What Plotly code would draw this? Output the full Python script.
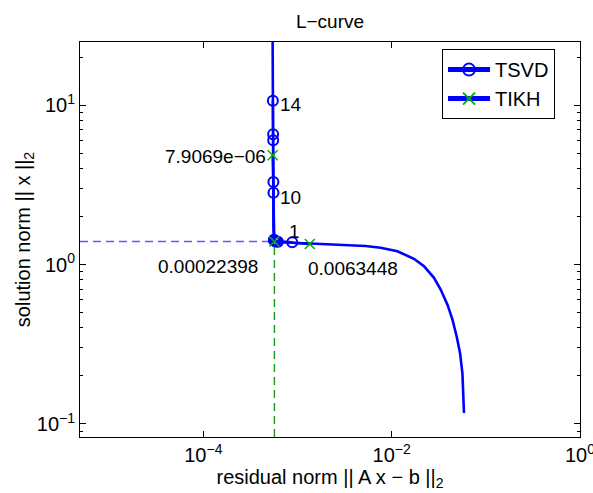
import numpy as np
import plotly.graph_objects as go

# ---- data ----
# Tikhonov L-curve (residual norm, solution norm)
tikh_rho = [5.42e-4, 5.48e-4, 5.56e-4, 5.69e-4, 7.45e-4, 1.37e-3, 3.66e-3, 5.28e-3,
            7.64e-3, 1.151e-2, 1.726e-2, 2.208e-2, 2.818e-2, 3.32e-2, 3.92e-2,
            4.43e-2, 4.91e-2, 5.33e-2, 5.65e-2, 5.80e-2, 5.87e-2]
tikh_eta = [50.0, 5.29, 1.66, 1.396, 1.375, 1.355, 1.326, 1.307,
            1.274, 1.212, 1.086, 0.976, 0.825, 0.697, 0.560,
            0.451, 0.354, 0.279, 0.208, 0.156, 0.117]

# Tikhonov marked points and their regularization parameters
tikh_mark_rho = [5.45e-4, 5.69e-4, 1.352e-3]
tikh_mark_eta = [4.85, 1.396, 1.346]
tikh_mark_lbl = ["7.9069e−06", "0.00022398", "0.0063448"]

# TSVD points k = 1..14
tsvd_k = list(range(1, 15))
tsvd_rho = [8.8e-4, 6.2e-4, 5.95e-4, 5.85e-4, 5.78e-4, 5.72e-4, 5.68e-4, 5.65e-4,
            5.62e-4, 5.56e-4, 5.55e-4, 5.52e-4, 5.51e-4, 5.48e-4]
tsvd_eta = [1.380, 1.390, 1.395, 1.400, 1.405, 1.410, 1.415, 1.420,
            1.428, 2.82, 3.29, 6.03, 6.57, 10.64]
tsvd_labelled = [1, 10, 14]

# corner
corner_rho = 5.69e-4
corner_eta = 1.396

# axis limits and ticks
xlim = [10 ** -5.31, 10 ** 0.001]
ylim = [10 ** -1.082, 10 ** 1.396]
xtick_vals = [1e-4, 1e-2, 1.0]
xtick_text = ["10<sup>−4</sup>", "10<sup>−2</sup>", "10<sup>0</sup>"]
ytick_vals = [0.1, 1.0, 10.0]
ytick_text = ["10<sup>−1</sup>", "10<sup>0</sup>", "10<sup>1</sup>"]
yminor_vals = [m * 10.0 ** e for e in (-2, -1, 0, 1) for m in range(2, 10)]

FONT = "Liberation Sans, Arial, Helvetica, sans-serif"
BLUE = "#0000ff"
GREEN = "#00b400"

fig = go.Figure()

# corner dashed lines
fig.add_trace(go.Scatter(x=[xlim[0], corner_rho], y=[corner_eta, corner_eta],
                         mode="lines", line=dict(color="#5a5aff", width=1.4, dash="8px,5px"),
                         showlegend=False, hoverinfo="skip"))
fig.add_trace(go.Scatter(x=[corner_rho, corner_rho], y=[ylim[0], corner_eta],
                         mode="lines", line=dict(color="#1a9a1a", width=1.4, dash="8px,5px"),
                         showlegend=False, hoverinfo="skip"))

# Tikhonov curve
fig.add_trace(go.Scatter(x=tikh_rho, y=tikh_eta, mode="lines",
                         line=dict(color=BLUE, width=2.6), showlegend=False))

# TSVD
fig.add_trace(go.Scatter(x=tsvd_rho, y=tsvd_eta, mode="lines+markers", name="TSVD",
                         line=dict(color=BLUE, width=2.4),
                         marker=dict(symbol="circle-open", size=10, color=BLUE,
                                     line=dict(width=2, color=BLUE))))

# TIKH markers
fig.add_trace(go.Scatter(x=tikh_mark_rho, y=tikh_mark_eta, mode="lines+markers", name="TIKH",
                         line=dict(color=BLUE, width=2.4),
                         marker=dict(symbol="x-thin-open", size=10, color=GREEN,
                                     line=dict(width=1.5, color=GREEN))))

ann = []
for k, r, e in zip(tsvd_k, tsvd_rho, tsvd_eta):
    if k in tsvd_labelled:
        if k == 1:
            ann.append(dict(x=np.log10(r), y=np.log10(e), text=str(k), xanchor="center",
                            yanchor="bottom", xshift=2, yshift=-2))
        elif k == 10:
            ann.append(dict(x=np.log10(r), y=np.log10(e), text=str(k), xanchor="left",
                            yanchor="middle", xshift=5, yshift=-5))
        else:
            ann.append(dict(x=np.log10(r), y=np.log10(e), text=str(k), xanchor="left",
                            yanchor="middle", xshift=5, yshift=-4))

ann.append(dict(x=np.log10(tikh_mark_rho[0]), y=np.log10(tikh_mark_eta[0]), text=tikh_mark_lbl[0],
                xanchor="right", yanchor="middle", xshift=-5, yshift=-1))
ann.append(dict(x=np.log10(tikh_mark_rho[1]), y=np.log10(tikh_mark_eta[1]), text=tikh_mark_lbl[1],
                xanchor="right", yanchor="middle", xshift=-14, yshift=-25))
ann.append(dict(x=np.log10(tikh_mark_rho[2]), y=np.log10(tikh_mark_eta[2]), text=tikh_mark_lbl[2],
                xanchor="left", yanchor="middle", xshift=-4, yshift=-25))
for a in ann:
    a.update(xref="x", yref="y", showarrow=False, font=dict(size=19, color="black", family=FONT))
fig.update_layout(annotations=ann)

axis_common = dict(type="log", showgrid=False, zeroline=False, showline=True, linecolor="black",
                   linewidth=1, mirror="allticks", ticks="inside", ticklen=6, tickcolor="black",
                   tickfont=dict(size=20, color="black", family=FONT), automargin=False,
                   ticklabeloverflow="allow")

fig.update_xaxes(**axis_common, range=[np.log10(xlim[0]), np.log10(xlim[1])],
                 tickmode="array", tickvals=xtick_vals, ticktext=xtick_text,
                 title=dict(text="residual norm || A x − b ||<sub>2</sub>",
                            font=dict(size=20, color="black", family=FONT), standoff=4))
fig.update_yaxes(**axis_common, range=[np.log10(ylim[0]), np.log10(ylim[1])],
                 tickmode="array", tickvals=ytick_vals, ticktext=ytick_text,
                 minor=dict(tickmode="array", tickvals=yminor_vals, ticks="inside", ticklen=3,
                            tickcolor="black", showgrid=False),
                 title=dict(text="solution norm || x ||<sub>2</sub>",
                            font=dict(size=20, color="black", family=FONT), standoff=0))

fig.update_layout(
    width=593, height=493,
    margin=dict(l=80, r=13, t=42, b=56),
    paper_bgcolor="white", plot_bgcolor="white",
    title=dict(text="L−curve", x=0.5 * (80 + 580) / 593, xanchor="center", y=1 - 21 / 493,
               yanchor="middle", font=dict(size=19, color="black", family=FONT)),
    legend=dict(x=0.724, y=0.982, xanchor="left", yanchor="top", bgcolor="white",
                bordercolor="black", borderwidth=1,
                font=dict(size=20, color="black", family=FONT),
                tracegroupgap=0, itemsizing="constant", itemwidth=42),
    font=dict(family=FONT, color="black"),
    showlegend=True,
)

fig.write_html("out.html", config={"displayModeBar": False},
               post_script="document.body.style.margin='0px';document.body.style.overflow='hidden';")
